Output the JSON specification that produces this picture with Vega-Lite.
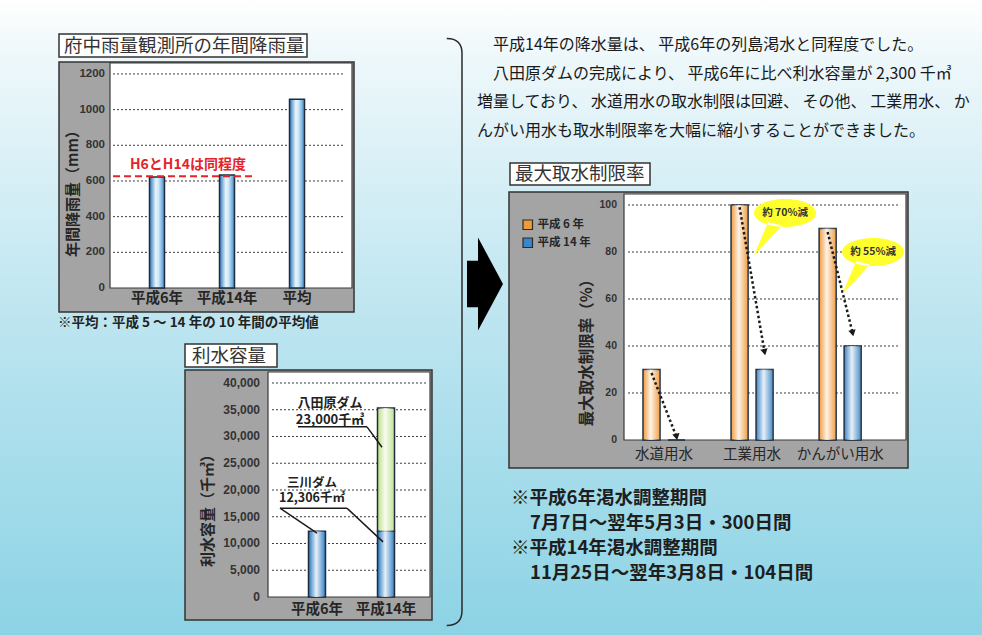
{
  "$schema": "https://vega.github.io/schema/vega-lite/v6.json",
  "width": 982,
  "height": 635,
  "autosize": "none",
  "padding": 0,
  "background": "#ffffff",
  "config": {
    "view": {"stroke": null},
    "font": "Noto Sans CJK JP"
  },
  "datasets": {
    "rain": [
      {"period": "平成6年", "rain": 622},
      {"period": "平成14年", "rain": 634},
      {"period": "平均", "rain": 1058}
    ],
    "rainTicks": [{"tick": 0}, {"tick": 200}, {"tick": 400}, {"tick": 600}, {"tick": 800}, {"tick": 1000}, {"tick": 1200}],
    "rainNote": [{"from": "平成6年", "to": "平成14年", "level": 627, "label": "H6とH14は同程度"}],
    "capacity": [
      {"year": "平成6年", "dam": "三川ダム", "capacity": 12306},
      {"year": "平成14年", "dam": "三川ダム", "capacity": 12306},
      {"year": "平成14年", "dam": "八田原ダム", "capacity": 23000}
    ],
    "capTicks": [{"tick": 0}, {"tick": 5000}, {"tick": 10000}, {"tick": 15000}, {"tick": 20000}, {"tick": 25000}, {"tick": 30000}, {"tick": 35000}, {"tick": 40000}],
    "leaders": [
      {"seg": "A", "from": "平成6年", "to": "平成14年", "y1": 31800, "y2": 31800},
      {"seg": "B", "from": "平成14年", "to": "平成14年", "y1": 31800, "y2": 28000},
      {"seg": "C", "from": "平成6年", "to": "平成14年", "y1": 16600, "y2": 16600},
      {"seg": "D", "from": "平成14年", "to": "平成14年", "y1": 16600, "y2": 10300},
      {"seg": "E", "from": "平成6年", "to": "平成6年", "y1": 16600, "y2": 11950}
    ],
    "damLabels": [
      {"dam": "八田原ダム", "at": "平成6年", "v": 34700, "label": "八田原ダム\n23,000千㎥"},
      {"dam": "三川ダム", "at": "平成6年", "v": 20000, "label": "三川ダム\n12,306千㎥"}
    ],
    "limit": [
      {"use": "水道用水", "year": "平成6年", "rate": 30},
      {"use": "水道用水", "year": "平成14年", "rate": 0},
      {"use": "工業用水", "year": "平成6年", "rate": 100},
      {"use": "工業用水", "year": "平成14年", "rate": 30},
      {"use": "かんがい用水", "year": "平成6年", "rate": 90},
      {"use": "かんがい用水", "year": "平成14年", "rate": 40}
    ],
    "limitTicks": [{"tick": 0}, {"tick": 20}, {"tick": 40}, {"tick": 60}, {"tick": 80}, {"tick": 100}],
    "arrows": [
      {"use": "水道用水", "year": "平成6年", "rate": 28.5},
      {"use": "水道用水", "year": "平成14年", "rate": 1.3},
      {"use": "工業用水", "year": "平成6年", "rate": 99},
      {"use": "工業用水", "year": "平成14年", "rate": 37.4},
      {"use": "かんがい用水", "year": "平成6年", "rate": 88.5},
      {"use": "かんがい用水", "year": "平成14年", "rate": 45.5}
    ],
    "callouts": [
      {"use": "工業用水", "label": "約 70%減", "rate": 96.6},
      {"use": "かんがい用水", "label": "約 55%減", "rate": 80}
    ],
    "topText": [
      {"line": 1, "text": "平成14年の降水量は、 平成6年の列島渇水と同程度でした。"},
      {"line": 2, "text": "八田原ダムの完成により、 平成6年に比べ利水容量が 2,300 千㎥"},
      {"line": 3, "text": "増量しており、 水道用水の取水制限は回避、 その他、 工業用水、 か"},
      {"line": 4, "text": "んがい用水も取水制限率を大幅に縮小することができました。"}
    ],
    "bottomText": [
      {"line": 1, "text": "※平成6年渇水調整期間"},
      {"line": 2, "text": "7月7日～翌年5月3日・300日間"},
      {"line": 3, "text": "※平成14年渇水調整期間"},
      {"line": 4, "text": "11月25日～翌年3月8日・104日間"}
    ]
  },
  "layer": [
    {
      "data": {"values": [{}]},
      "mark": {"type": "rect", "fill": {"gradient": "linear", "x1": 0, "y1": 0, "x2": 0, "y2": 1, "stops": [{"offset": 0, "color": "#ffffff"}, {"offset": 0.08, "color": "#eff8fb"}, {"offset": 0.5, "color": "#bde5f0"}, {"offset": 1, "color": "#8cd3e5"}]}},
      "encoding": {}
    },
    {
      "data": {"values": [{}]},
      "mark": {"type": "point", "shape": "M-0.387,-0.5 L-0.15,-0.5 L-0.15,-1 L0.387,0 L-0.15,1 L-0.15,0.5 L-0.387,0.5 Z", "size": 8649, "filled": true, "fill": "#000000", "opacity": 1, "strokeWidth": 0},
      "encoding": {"x": {"value": 485}, "y": {"value": 284}}
    },
    {
      "data": {"values": [{}]},
      "mark": {"type": "point", "shape": "M-0.035,-1 Q0.017,-1 0.017,-0.95 L0.017,0.95 Q0.017,1 -0.035,1", "size": 344569, "filled": false, "stroke": "#2a2a2a", "strokeWidth": 1.5, "opacity": 1},
      "encoding": {"x": {"value": 457}, "y": {"value": 332}}
    },
    {
      "data": {"name": "topText"},
      "encoding": {
        "y": {"field": "line", "type": "ordinal", "scale": {"type": "point", "domain": [1, 2, 3, 4], "range": [45, 131], "padding": 0}, "axis": null},
        "text": {"field": "text"}
      },
      "layer": [
        {"transform": [{"filter": "datum.line <= 2"}], "mark": {"type": "text", "align": "left", "baseline": "middle", "fontSize": 16, "color": "#1a1a1a"}, "encoding": {"x": {"value": 493}}},
        {"transform": [{"filter": "datum.line > 2"}], "mark": {"type": "text", "align": "left", "baseline": "middle", "fontSize": 16, "color": "#1a1a1a"}, "encoding": {"x": {"value": 477}}}
      ]
    },
    {
      "data": {"name": "bottomText"},
      "encoding": {
        "y": {"field": "line", "type": "ordinal", "scale": {"type": "point", "domain": [1, 2, 3, 4], "range": [498, 573], "padding": 0}, "axis": null},
        "text": {"field": "text"}
      },
      "layer": [
        {"transform": [{"filter": "datum.line == 1 || datum.line == 3"}], "mark": {"type": "text", "align": "left", "baseline": "middle", "fontSize": 18.5, "fontWeight": "bold", "color": "#1e1e1e"}, "encoding": {"x": {"value": 511}}},
        {"transform": [{"filter": "datum.line == 2 || datum.line == 4"}], "mark": {"type": "text", "align": "left", "baseline": "middle", "fontSize": 18.5, "fontWeight": "bold", "color": "#1e1e1e"}, "encoding": {"x": {"value": 530}}}
      ]
    },
    {
      "data": {"name": "rain"},
      "layer": [
        {"data": {"values": [{}]}, "mark": {"type": "rect", "fill": "#a4a4a4", "stroke": "#333333", "strokeWidth": 1.5}, "encoding": {"x": {"value": 59}, "x2": {"value": 354}, "y": {"value": 62}, "y2": {"value": 312}}},
        {"data": {"values": [{}]}, "mark": {"type": "rect", "fill": "#ffffff", "stroke": "#3a3a3a", "strokeWidth": 1.2}, "encoding": {"x": {"value": 110}, "x2": {"value": 352}, "y": {"value": 63}, "y2": {"value": 288}}},
        {"data": {"values": [{}]}, "mark": {"type": "rect", "fill": "#ffffff", "stroke": "#333333", "strokeWidth": 1.5}, "encoding": {"x": {"value": 59}, "x2": {"value": 307}, "y": {"value": 34}, "y2": {"value": 57}}},
        {"data": {"values": [{"t": "府中雨量観測所の年間降雨量"}]}, "mark": {"type": "text", "align": "left", "baseline": "middle", "fontSize": 18.5, "color": "#333333"}, "encoding": {"x": {"value": 64}, "y": {"value": 46}, "text": {"field": "t"}}},
        {"data": {"values": [{"t": "年間降雨量（mm）"}]}, "mark": {"type": "text", "align": "center", "baseline": "middle", "angle": 270, "fontSize": 15, "fontWeight": "bold", "color": "#262626"}, "encoding": {"x": {"value": 73}, "y": {"value": 190}, "text": {"field": "t"}}},
        {
          "data": {"name": "rainTicks"},
          "transform": [{"filter": "datum.tick > 0"}],
          "mark": {"type": "rule", "stroke": "#3c3c3c", "strokeWidth": 1, "strokeDash": [2, 2], "xOffset": -44, "x2Offset": 48},
          "encoding": {"x": {"datum": "平成6年", "type": "nominal", "axis": null}, "x2": {"datum": "平均"}, "y": {"field": "tick", "type": "quantitative", "axis": null}}
        },
        {
          "data": {"name": "rainTicks"},
          "mark": {"type": "text", "align": "right", "baseline": "middle", "font": "Liberation Sans", "fontSize": 11.5, "fontWeight": "bold", "color": "#333333", "xOffset": -52},
          "encoding": {"x": {"datum": "平成6年", "type": "nominal", "axis": null}, "y": {"field": "tick", "type": "quantitative", "axis": null}, "text": {"field": "tick", "type": "quantitative", "format": "d"}}
        },
        {
          "mark": {"type": "bar", "width": 15, "fill": {"gradient": "linear", "x1": 0, "y1": 0, "x2": 1, "y2": 0, "stops": [{"offset": 0, "color": "#2d74b8"}, {"offset": 0.42, "color": "#e9f6fd"}, {"offset": 0.6, "color": "#cfe7f7"}, {"offset": 1, "color": "#3f8fcf"}]}, "stroke": "#1e2c3e", "strokeWidth": 1.5},
          "encoding": {
            "x": {"field": "period", "type": "nominal", "sort": null, "scale": {"domain": ["平成6年", "平成14年", "平均"], "range": [111, 343], "paddingInner": 0, "paddingOuter": 0.157}, "axis": null},
            "y": {"field": "rain", "type": "quantitative", "scale": {"domain": [0, 1267], "range": [288, 62], "nice": false}, "axis": null}
          }
        },
        {
          "mark": {"type": "text", "align": "center", "baseline": "middle", "fontSize": 14.5, "fontWeight": "bold", "color": "#262626", "dy": 11},
          "encoding": {"x": {"field": "period", "type": "nominal", "axis": null}, "y": {"datum": 0, "type": "quantitative", "axis": null}, "text": {"field": "period"}}
        },
        {
          "data": {"name": "rainNote"},
          "mark": {"type": "rule", "stroke": "#e3242b", "strokeWidth": 2, "strokeDash": [7, 4], "xOffset": -44, "x2Offset": 27},
          "encoding": {"x": {"field": "from", "type": "nominal", "axis": null}, "x2": {"field": "to"}, "y": {"field": "level", "type": "quantitative", "axis": null}}
        },
        {
          "data": {"name": "rainNote"},
          "mark": {"type": "text", "align": "left", "baseline": "middle", "fontSize": 14, "fontWeight": "bold", "color": "#e3242b", "xOffset": -27, "dy": -11},
          "encoding": {"x": {"field": "from", "type": "nominal", "axis": null}, "y": {"field": "level", "type": "quantitative", "axis": null}, "text": {"field": "label"}}
        },
        {"data": {"values": [{"note": "※平均：平成 5 ～ 14 年の 10 年間の平均値"}]}, "mark": {"type": "text", "align": "left", "baseline": "middle", "fontSize": 13.5, "fontWeight": "bold", "color": "#222222"}, "encoding": {"x": {"value": 58}, "y": {"value": 323}, "text": {"field": "note"}}}
      ]
    },
    {
      "data": {"name": "capacity"},
      "layer": [
        {"data": {"values": [{}]}, "mark": {"type": "rect", "fill": "#a4a4a4", "stroke": "#333333", "strokeWidth": 1.5}, "encoding": {"x": {"value": 185}, "x2": {"value": 432}, "y": {"value": 370}, "y2": {"value": 620}}},
        {"data": {"values": [{}]}, "mark": {"type": "rect", "fill": "#ffffff", "stroke": "#3a3a3a", "strokeWidth": 1.2}, "encoding": {"x": {"value": 268}, "x2": {"value": 430}, "y": {"value": 372}, "y2": {"value": 597}}},
        {"data": {"values": [{}]}, "mark": {"type": "rect", "fill": "#ffffff", "stroke": "#333333", "strokeWidth": 1.5}, "encoding": {"x": {"value": 185}, "x2": {"value": 277}, "y": {"value": 344}, "y2": {"value": 367}}},
        {"data": {"values": [{"t": "利水容量"}]}, "mark": {"type": "text", "align": "left", "baseline": "middle", "fontSize": 18.5, "color": "#333333"}, "encoding": {"x": {"value": 192}, "y": {"value": 355.5}, "text": {"field": "t"}}},
        {"data": {"values": [{"t": "利水容量（千㎥）"}]}, "mark": {"type": "text", "align": "center", "baseline": "middle", "angle": 270, "fontSize": 15, "fontWeight": "bold", "color": "#262626"}, "encoding": {"x": {"value": 208}, "y": {"value": 507}, "text": {"field": "t"}}},
        {
          "data": {"name": "capTicks"},
          "transform": [{"filter": "datum.tick > 0"}],
          "mark": {"type": "rule", "stroke": "#3c3c3c", "strokeWidth": 1, "strokeDash": [2, 2], "xOffset": -45, "x2Offset": 41},
          "encoding": {"x": {"datum": "平成6年", "type": "nominal", "axis": null}, "x2": {"datum": "平成14年"}, "y": {"field": "tick", "type": "quantitative", "axis": null}}
        },
        {
          "data": {"name": "capTicks"},
          "mark": {"type": "text", "align": "right", "baseline": "middle", "font": "Liberation Sans", "fontSize": 12, "fontWeight": "bold", "color": "#333333", "xOffset": -57},
          "encoding": {"x": {"datum": "平成6年", "type": "nominal", "axis": null}, "y": {"field": "tick", "type": "quantitative", "axis": null}, "text": {"field": "tick", "type": "quantitative", "format": ","}}
        },
        {
          "mark": {"type": "bar", "width": 17, "stroke": "#1e2c3e", "strokeWidth": 1.5},
          "encoding": {
            "x": {"field": "year", "type": "nominal", "sort": null, "scale": {"domain": ["平成6年", "平成14年"], "range": [274, 429], "paddingInner": 0, "paddingOuter": 0.123}, "axis": null},
            "y": {"field": "capacity", "type": "quantitative", "stack": "zero", "scale": {"domain": [0, 42056], "range": [597, 372], "nice": false}, "axis": null},
            "fill": {"field": "dam", "type": "nominal", "scale": {"domain": ["三川ダム", "八田原ダム"], "range": ["#3b86c6", "#c4e294"]}, "legend": null},
            "order": {"field": "dam", "sort": "ascending"}
          }
        },
        {
          "mark": {"type": "bar", "width": 15, "fill": {"gradient": "linear", "x1": 0, "y1": 0, "x2": 1, "y2": 0, "stops": [{"offset": 0, "color": "rgba(255,255,255,0)"}, {"offset": 0.45, "color": "rgba(255,255,255,0.88)"}, {"offset": 1, "color": "rgba(255,255,255,0.05)"}]}, "strokeWidth": 0},
          "encoding": {
            "x": {"field": "year", "type": "nominal", "axis": null},
            "y": {"field": "capacity", "type": "quantitative", "stack": "zero", "axis": null},
            "detail": {"field": "dam"},
            "order": {"field": "dam", "sort": "ascending"}
          }
        },
        {
          "transform": [{"aggregate": [{"op": "count", "as": "n"}], "groupby": ["year"]}],
          "mark": {"type": "text", "align": "center", "baseline": "middle", "fontSize": 14.5, "fontWeight": "bold", "color": "#262626", "dy": 13},
          "encoding": {"x": {"field": "year", "type": "nominal", "axis": null}, "y": {"datum": 0, "type": "quantitative", "axis": null}, "text": {"field": "year"}}
        },
        {"data": {"name": "leaders"}, "transform": [{"filter": "datum.seg == 'A'"}], "mark": {"type": "rule", "stroke": "#1a1a1a", "strokeWidth": 1.5, "xOffset": -19, "x2Offset": -19}, "encoding": {"x": {"field": "from", "type": "nominal", "axis": null}, "x2": {"field": "to"}, "y": {"field": "y1", "type": "quantitative", "axis": null}, "y2": {"field": "y2"}}},
        {"data": {"name": "leaders"}, "transform": [{"filter": "datum.seg == 'B'"}], "mark": {"type": "rule", "stroke": "#1a1a1a", "strokeWidth": 1.5, "xOffset": -19, "x2Offset": -4}, "encoding": {"x": {"field": "from", "type": "nominal", "axis": null}, "x2": {"field": "to"}, "y": {"field": "y1", "type": "quantitative", "axis": null}, "y2": {"field": "y2"}}},
        {"data": {"name": "leaders"}, "transform": [{"filter": "datum.seg == 'C'"}], "mark": {"type": "rule", "stroke": "#1a1a1a", "strokeWidth": 1.5, "xOffset": -37, "x2Offset": -39}, "encoding": {"x": {"field": "from", "type": "nominal", "axis": null}, "x2": {"field": "to"}, "y": {"field": "y1", "type": "quantitative", "axis": null}, "y2": {"field": "y2"}}},
        {"data": {"name": "leaders"}, "transform": [{"filter": "datum.seg == 'D'"}], "mark": {"type": "rule", "stroke": "#1a1a1a", "strokeWidth": 1.5, "xOffset": -39, "x2Offset": -3}, "encoding": {"x": {"field": "from", "type": "nominal", "axis": null}, "x2": {"field": "to"}, "y": {"field": "y1", "type": "quantitative", "axis": null}, "y2": {"field": "y2"}}},
        {"data": {"name": "leaders"}, "transform": [{"filter": "datum.seg == 'E'"}], "mark": {"type": "rule", "stroke": "#1a1a1a", "strokeWidth": 1.5, "xOffset": -37, "x2Offset": 0}, "encoding": {"x": {"field": "from", "type": "nominal", "axis": null}, "x2": {"field": "to"}, "y": {"field": "y1", "type": "quantitative", "axis": null}, "y2": {"field": "y2"}}},
        {"data": {"name": "damLabels"}, "transform": [{"filter": "datum.dam == '八田原ダム'"}], "mark": {"type": "text", "align": "center", "baseline": "middle", "lineBreak": "\n", "lineHeight": 17, "fontSize": 13, "fontWeight": "bold", "color": "#222222", "xOffset": 13, "dy": -8}, "encoding": {"x": {"field": "at", "type": "nominal", "axis": null}, "y": {"field": "v", "type": "quantitative", "axis": null}, "text": {"field": "label"}}},
        {"data": {"name": "damLabels"}, "transform": [{"filter": "datum.dam == '三川ダム'"}], "mark": {"type": "text", "align": "center", "baseline": "middle", "lineBreak": "\n", "lineHeight": 15, "fontSize": 12.5, "fontWeight": "bold", "color": "#222222", "xOffset": -5, "dy": -7}, "encoding": {"x": {"field": "at", "type": "nominal", "axis": null}, "y": {"field": "v", "type": "quantitative", "axis": null}, "text": {"field": "label"}}}
      ]
    },
    {
      "data": {"name": "limit"},
      "layer": [
        {"data": {"values": [{}]}, "mark": {"type": "rect", "fill": "#a4a4a4", "stroke": "#333333", "strokeWidth": 1.5}, "encoding": {"x": {"value": 509}, "x2": {"value": 908}, "y": {"value": 192}, "y2": {"value": 468}}},
        {"data": {"values": [{}]}, "mark": {"type": "rect", "fill": "#ffffff", "stroke": "#3a3a3a", "strokeWidth": 1.2}, "encoding": {"x": {"value": 624}, "x2": {"value": 906}, "y": {"value": 194}, "y2": {"value": 440}}},
        {"data": {"values": [{}]}, "mark": {"type": "rect", "fill": "#ffffff", "stroke": "#333333", "strokeWidth": 1.5}, "encoding": {"x": {"value": 510}, "x2": {"value": 650}, "y": {"value": 163}, "y2": {"value": 185}}},
        {"data": {"values": [{"t": "最大取水制限率"}]}, "mark": {"type": "text", "align": "left", "baseline": "middle", "fontSize": 18.5, "color": "#333333"}, "encoding": {"x": {"value": 515}, "y": {"value": 174}, "text": {"field": "t"}}},
        {"data": {"values": [{"t": "最大取水制限率（%）"}]}, "mark": {"type": "text", "align": "center", "baseline": "middle", "angle": 270, "fontSize": 15.5, "fontWeight": "bold", "color": "#262626"}, "encoding": {"x": {"value": 587}, "y": {"value": 349}, "text": {"field": "t"}}},
        {
          "data": {"name": "limitTicks"},
          "transform": [{"filter": "datum.tick > 0"}],
          "mark": {"type": "rule", "stroke": "#3c3c3c", "strokeWidth": 1, "strokeDash": [2, 2], "xOffset": -36, "x2Offset": 60},
          "encoding": {"x": {"datum": "水道用水", "type": "nominal", "axis": null}, "x2": {"datum": "かんがい用水"}, "y": {"field": "tick", "type": "quantitative", "axis": null}}
        },
        {
          "data": {"name": "limitTicks"},
          "mark": {"type": "text", "align": "right", "baseline": "middle", "font": "Liberation Sans", "fontSize": 10.5, "fontWeight": "bold", "color": "#333333", "xOffset": -47},
          "encoding": {"x": {"datum": "水道用水", "type": "nominal", "axis": null}, "y": {"field": "tick", "type": "quantitative", "axis": null}, "text": {"field": "tick", "type": "quantitative", "format": "d"}}
        },
        {
          "mark": {"type": "bar", "stroke": "#1e2c3e", "strokeWidth": 1.5},
          "encoding": {
            "x": {"field": "use", "type": "nominal", "sort": null, "scale": {"domain": ["水道用水", "工業用水", "かんがい用水"], "range": [620, 900], "paddingInner": 0, "paddingOuter": 0.09, "align": 0}, "axis": null},
            "xOffset": {"field": "year", "type": "nominal", "sort": null, "scale": {"domain": ["平成6年", "平成14年"], "paddingInner": 0.32, "paddingOuter": 0.92}},
            "y": {"field": "rate", "type": "quantitative", "scale": {"domain": [0, 105.1], "range": [440, 193], "nice": false}, "axis": null},
            "fill": {"field": "year", "type": "nominal", "sort": null, "scale": {"domain": ["平成6年", "平成14年"], "range": ["#f09a3c", "#3b86c6"]}, "legend": {"orient": "none", "legendX": 522, "legendY": 219, "title": null, "symbolType": "square", "symbolSize": 90, "symbolStrokeColor": "#2a2a2a", "symbolStrokeWidth": 1.2, "labelFontSize": 11.5, "labelFontWeight": "bold", "labelColor": "#262626", "rowPadding": 3, "labelOffset": 4, "labelExpr": "datum.label == '平成6年' ? '平成 6 年' : '平成 14 年'"}}
          }
        },
        {
          "mark": {"type": "bar", "fill": {"gradient": "linear", "x1": 0, "y1": 0, "x2": 1, "y2": 0, "stops": [{"offset": 0, "color": "rgba(255,255,255,0)"}, {"offset": 0.45, "color": "rgba(255,255,255,0.88)"}, {"offset": 1, "color": "rgba(255,255,255,0.05)"}]}, "strokeWidth": 0},
          "encoding": {
            "x": {"field": "use", "type": "nominal", "axis": null},
            "xOffset": {"field": "year", "type": "nominal"},
            "y": {"field": "rate", "type": "quantitative", "axis": null}
          }
        },
        {
          "transform": [{"aggregate": [{"op": "count", "as": "n"}], "groupby": ["use"]}],
          "mark": {"type": "text", "align": "center", "baseline": "middle", "fontSize": 14.5, "color": "#262626", "dy": 15},
          "encoding": {"x": {"field": "use", "type": "nominal", "axis": null}, "y": {"datum": 0, "type": "quantitative", "axis": null}, "text": {"field": "use"}}
        },
        {
          "data": {"name": "arrows"},
          "mark": {"type": "line", "stroke": "#1a1a1a", "strokeWidth": 2.5, "strokeDash": [2.5, 2.5]},
          "encoding": {"x": {"field": "use", "type": "nominal", "axis": null}, "xOffset": {"field": "year", "type": "nominal"}, "y": {"field": "rate", "type": "quantitative", "axis": null}, "detail": {"field": "use"}}
        },
        {
          "data": {"name": "arrows"},
          "transform": [{"filter": "datum.year == '平成14年'"}],
          "mark": {"type": "point", "shape": "triangle-down", "filled": true, "fill": "#1a1a1a", "size": 55, "angle": -12, "opacity": 1, "strokeWidth": 0},
          "encoding": {"x": {"field": "use", "type": "nominal", "axis": null}, "xOffset": {"field": "year", "type": "nominal"}, "y": {"field": "rate", "type": "quantitative", "axis": null}}
        },
        {
          "data": {"name": "callouts"},
          "mark": {"type": "point", "shape": "M1,0 C1,0.2485 0.5523,0.45 0,0.45 C-0.5523,0.45 -1,0.2485 -1,0 C-1,-0.2485 -0.5523,-0.45 0,-0.45 C0.5523,-0.45 1,-0.2485 1,0 Z M-0.55,0.3 L-1.0,1.37 L-0.1,0.4 Z", "size": 3844, "filled": true, "fill": "#ffff2e", "opacity": 1, "strokeWidth": 0, "xOffset": 33},
          "encoding": {"x": {"field": "use", "type": "nominal", "axis": null}, "y": {"field": "rate", "type": "quantitative", "axis": null}}
        },
        {
          "data": {"name": "callouts"},
          "mark": {"type": "text", "align": "center", "baseline": "middle", "fontSize": 10.5, "fontWeight": "bold", "color": "#333333", "xOffset": 33},
          "encoding": {"x": {"field": "use", "type": "nominal", "axis": null}, "y": {"field": "rate", "type": "quantitative", "axis": null}, "text": {"field": "label"}}
        }
      ]
    }
  ],
  "resolve": {
    "scale": {"x": "independent", "y": "independent", "xOffset": "independent", "fill": "independent"},
    "axis": {"x": "independent", "y": "independent"},
    "legend": {"fill": "independent"}
  }
}
